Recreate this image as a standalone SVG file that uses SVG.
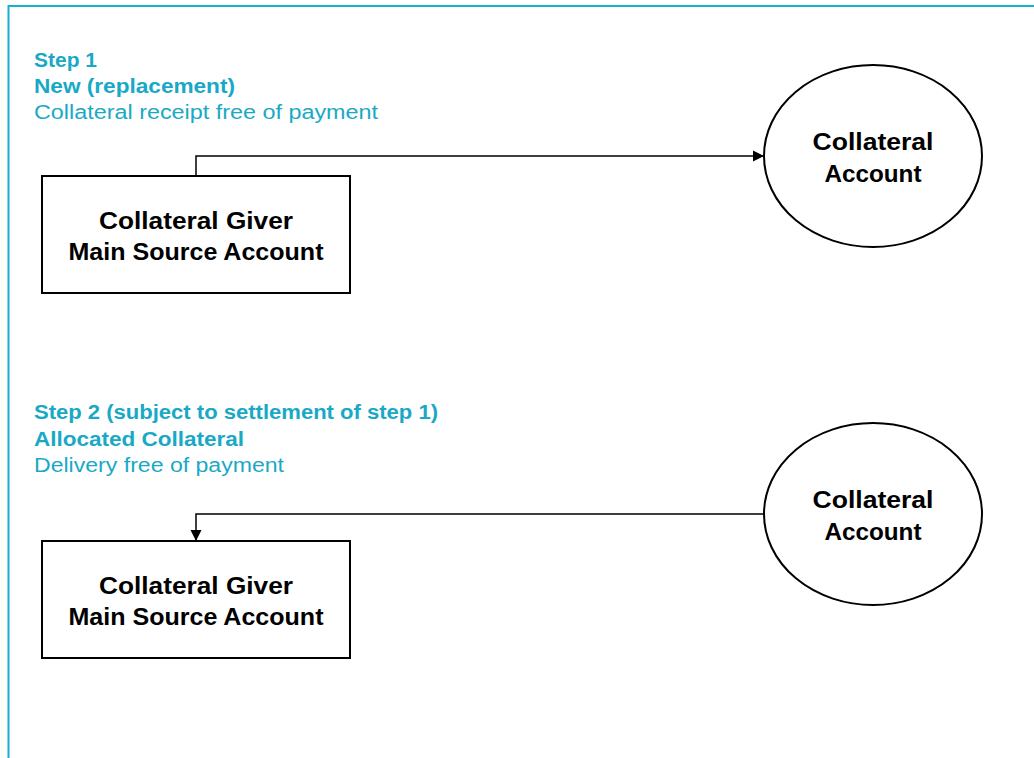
<svg xmlns="http://www.w3.org/2000/svg" width="1034" height="758" viewBox="0 0 1034 758">
<defs>
<style>
.frame{fill:none;stroke:#1aaecf;stroke-width:2}
.box{fill:#fff;stroke:#000;stroke-width:2}
.conn{fill:none;stroke:#000;stroke-width:1.5}
.hd{font-family:"Liberation Sans",Arial,sans-serif;font-size:20px;font-weight:bold;fill:#19a9c6}
.sub{font-family:"Liberation Sans",Arial,sans-serif;font-size:20px;fill:#19a9c6}
.lbl{font-family:"Liberation Sans",Arial,sans-serif;font-size:24px;font-weight:bold;fill:#000;text-anchor:middle}
</style>
<marker id="arr" markerWidth="12" markerHeight="12" refX="11" refY="6" orient="auto" markerUnits="userSpaceOnUse">
<path d="M0,0.5 L11,6 L0,11.5 Z" fill="#000"/>
</marker>
</defs>
<rect width="1034" height="758" fill="#fff"/>
<path class="frame" d="M8.5,758 V6 H1034"/>
<g id="heading1">
<text class="hd" x="34" y="67" textLength="63" lengthAdjust="spacingAndGlyphs">Step 1</text>
<text class="hd" x="34" y="93" textLength="201" lengthAdjust="spacingAndGlyphs">New (replacement)</text>
<text class="sub" x="34" y="119" textLength="344" lengthAdjust="spacingAndGlyphs">Collateral receipt free of payment</text>
</g>
<g id="heading2">
<text class="hd" x="34" y="419" textLength="404" lengthAdjust="spacingAndGlyphs">Step 2 (subject to settlement of step 1)</text>
<text class="hd" x="34" y="446" textLength="210" lengthAdjust="spacingAndGlyphs">Allocated Collateral</text>
<text class="sub" x="34" y="472" textLength="250" lengthAdjust="spacingAndGlyphs">Delivery free of payment</text>
</g>
<g id="connectors">
<path class="conn" d="M196,176 V156 H764" marker-end="url(#arr)"/>
<path class="conn" d="M764,514 H196 V541" marker-end="url(#arr)"/>
</g>
<g id="giver1">
<rect class="box" x="42" y="176" width="308" height="117"/>
<text class="lbl" x="196" y="229" textLength="194" lengthAdjust="spacingAndGlyphs">Collateral Giver</text>
<text class="lbl" x="196" y="260" textLength="255" lengthAdjust="spacingAndGlyphs">Main Source Account</text>
</g>
<g id="collateral1">
<ellipse class="box" cx="873" cy="156" rx="109" ry="91"/>
<text class="lbl" x="873" y="150" textLength="121" lengthAdjust="spacingAndGlyphs">Collateral</text>
<text class="lbl" x="873" y="182" textLength="97" lengthAdjust="spacingAndGlyphs">Account</text>
</g>
<g id="giver2">
<rect class="box" x="42" y="541" width="308" height="117"/>
<text class="lbl" x="196" y="594" textLength="194" lengthAdjust="spacingAndGlyphs">Collateral Giver</text>
<text class="lbl" x="196" y="625" textLength="255" lengthAdjust="spacingAndGlyphs">Main Source Account</text>
</g>
<g id="collateral2">
<ellipse class="box" cx="873" cy="514" rx="109" ry="91"/>
<text class="lbl" x="873" y="508" textLength="121" lengthAdjust="spacingAndGlyphs">Collateral</text>
<text class="lbl" x="873" y="540" textLength="97" lengthAdjust="spacingAndGlyphs">Account</text>
</g>
</svg>
